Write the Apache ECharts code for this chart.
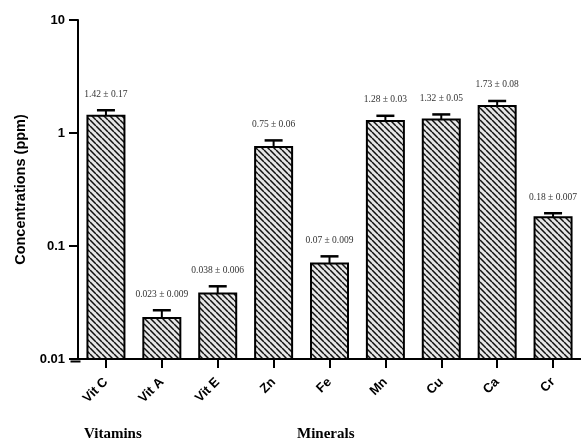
<!DOCTYPE html>
<html><head><meta charset="utf-8">
<script src="https://cdn.jsdelivr.net/npm/echarts@6/dist/echarts.min.js"></script>
<style>html,body{margin:0;padding:0;background:#fff}#c{width:581px;height:444px}</style>
</head><body><div id="c"></div>
<script>
const categories = ['Vit C','Vit A','Vit E','Zn','Fe','Mn','Cu','Ca','Cr'];
const values = [1.42, 0.023, 0.038, 0.75, 0.07, 1.28, 1.32, 1.73, 0.18];
// error bar sizes as drawn in the picture
const errors = [0.17, 0.004, 0.006, 0.11, 0.011, 0.14, 0.14, 0.19, 0.015];
const labels = ['1.42 ± 0.17','0.023 ± 0.009','0.038 ± 0.006','0.75 ± 0.06','0.07 ± 0.009','1.28 ± 0.03','1.32 ± 0.05','1.73 ± 0.08','0.18 ± 0.007'];
const yTicks = [0.01, 0.1, 1, 10];
const yMin = 0.01, yMax = 10;

// hatch pattern
const s = 6;
const cv = document.createElement('canvas');
cv.width = s; cv.height = s;
const ctx = cv.getContext('2d');
ctx.fillStyle = '#e6e6e6';
ctx.fillRect(0,0,s,s);
ctx.strokeStyle = '#111';
ctx.lineWidth = 1.5;
ctx.beginPath();
[-s,0,s].forEach(k=>{ctx.moveTo(k,0);ctx.lineTo(k+s,s);});
ctx.stroke();

const chart = echarts.init(document.getElementById('c'));
chart.setOption({
  animation:false,
  grid:{left:78,right:0,top:20,bottom:85},
  xAxis:{
    type:'category', data:categories,
    axisLine:{lineStyle:{color:'#000',width:2}},
    axisTick:{show:true,alignWithLabel:true,length:9,lineStyle:{color:'#000',width:2}},
    axisLabel:{rotate:45,color:'#000',fontFamily:'Liberation Sans, Arial',fontWeight:'bold',fontSize:13,margin:21}
  },
  yAxis:{
    type:'log', logBase:10, min:yMin, max:yMax,
    name:'Concentrations (ppm)', nameLocation:'middle', nameRotate:90, nameGap:49,
    nameTextStyle:{color:'#000',fontFamily:'Liberation Sans, Arial',fontWeight:'bold',fontSize:14.5},
    axisLine:{show:true,lineStyle:{color:'#000',width:2}},
    axisTick:{show:true,length:9,lineStyle:{color:'#000',width:2}},
    minorTick:{show:false},
    splitLine:{show:false},
    axisLabel:{color:'#000',fontFamily:'Liberation Sans, Arial',fontWeight:'bold',fontSize:13,margin:13,
      formatter:function(v){ for (const t of yTicks){ if (Math.abs(v-t)/t<1e-6) return String(t);} return ''; }}
  },
  series:[
    {type:'custom', z:2,
     data: values.map((v,i)=>[i,v]),
     renderItem:function(params,api){
       const i=api.value(0), v=api.value(1);
       const top=api.coord([i,v]); const base=api.coord([i,yMin]);
       const w=37;
       return {type:'rect',shape:{x:top[0]-w/2,y:top[1],width:w,height:base[1]-top[1]},
         style:{fill:{image:cv,repeat:'repeat'},stroke:'#000',lineWidth:2}};
     }},
    {type:'custom', z:3,
     data: values.map((v,i)=>[i,v,errors[i]]),
     renderItem:function(params,api){
       const i=api.value(0), v=api.value(1), e=api.value(2);
       const p0=api.coord([i,v]); const p1=api.coord([i,v+e]);
       const x=p0[0];
       return {type:'group',children:[
         {type:'line',shape:{x1:x,y1:p0[1],x2:x,y2:p1[1]},style:{stroke:'#000',lineWidth:2}},
         {type:'line',shape:{x1:x-9,y1:p1[1],x2:x+9,y2:p1[1]},style:{stroke:'#000',lineWidth:2.5}},
         {type:'text',x:x,y:p1[1]-16,style:{text:labels[params.dataIndex],textAlign:'center',textVerticalAlign:'middle',
           fill:'#333',font:'9.5px "Liberation Serif", "Times New Roman", serif'}}
       ]};
     }}
  ],
  graphic:[
    {type:'line',shape:{x1:68,y1:0,x2:78,y2:0},top:359,left:68,style:{stroke:'#000',lineWidth:2}},
    {type:'text',left:84,top:427,style:{text:'Vitamins',fill:'#000',font:'bold 15px "Liberation Serif", "Times New Roman", serif'}},
    {type:'text',left:297,top:427,style:{text:'Minerals',fill:'#000',font:'bold 15px "Liberation Serif", "Times New Roman", serif'}}
  ]
});
</script></body></html>
